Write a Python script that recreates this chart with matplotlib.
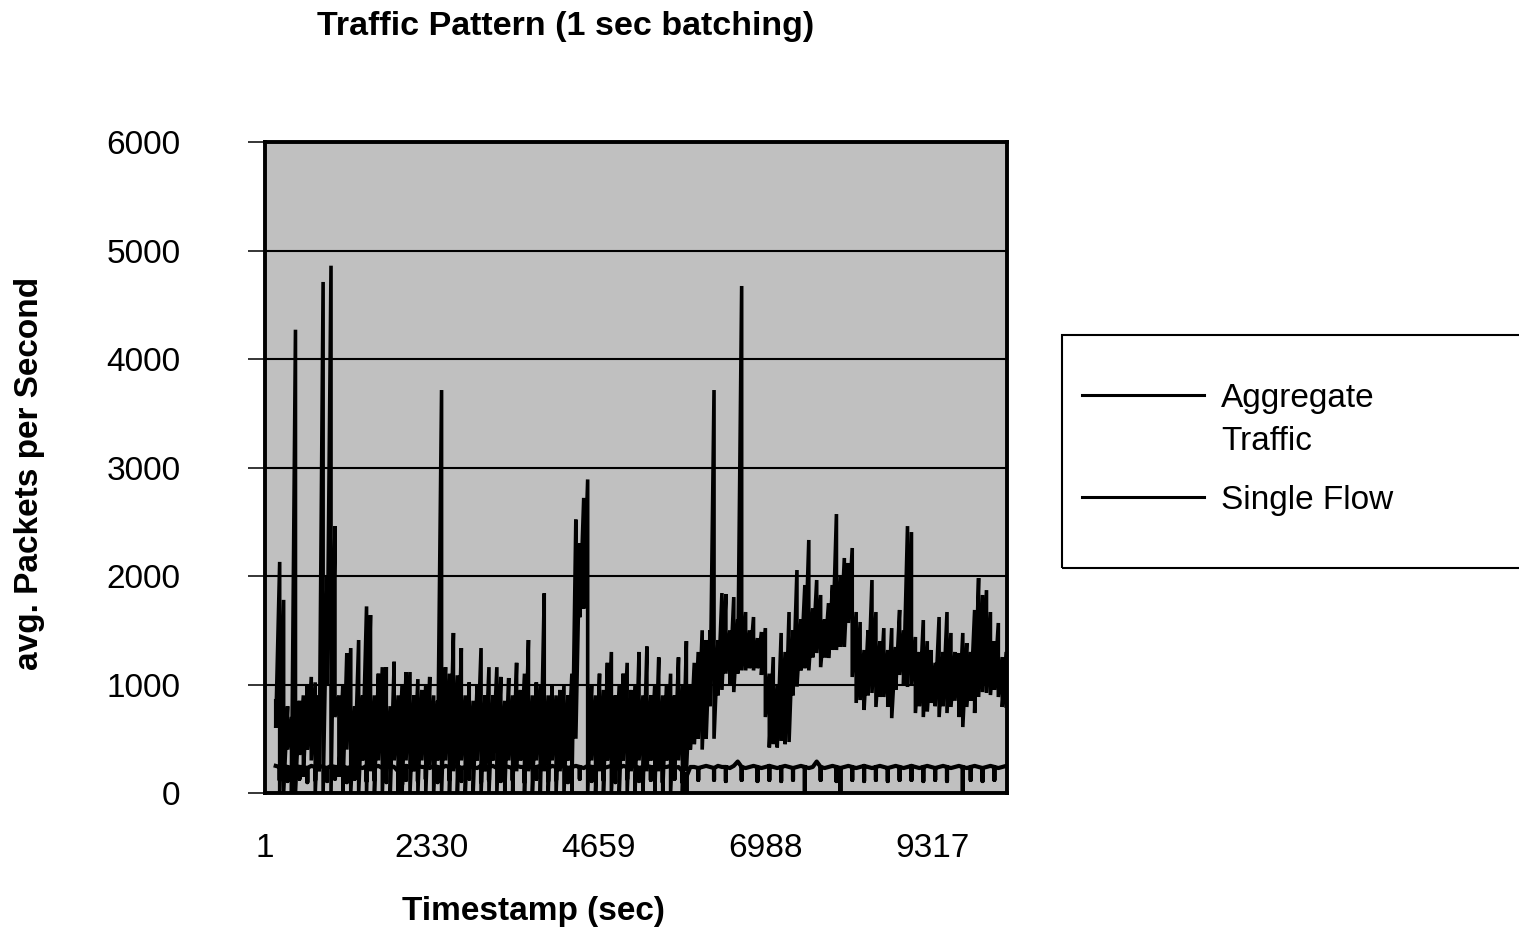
import numpy as np
import matplotlib.pyplot as plt
from matplotlib.lines import Line2D
from matplotlib.patches import Rectangle

plt.rcParams['font.family'] = ['Liberation Sans', 'DejaVu Sans']

# ---- data ----
title = 'Traffic Pattern (1 sec batching)'
x_label = 'Timestamp (sec)'
y_label = 'avg. Packets per Second'
series_names = ['Aggregate\nTraffic', 'Single Flow']
x_tick_values = [1, 2330, 4659, 6988, 9317]
y_tick_values = [0, 1000, 2000, 3000, 4000, 5000, 6000]

# aggregate traffic, read as peak / trough of each ~55 sec bin
agg_high = [
    850, 2130, 1780, 800, 700, 4270, 850, 900, 1000, 1070,
    1020, 900, 4710, 2000, 4860, 2460, 900, 1000, 1290, 1336,
    800, 1410, 900, 1720, 1640, 900, 1100, 1160, 1160, 800,
    1210, 900, 1000, 1115, 1115, 900, 1050, 950, 1000, 1070,
    900, 850, 3714, 1160, 1100, 1475, 1085, 1336, 900, 1020,
    850, 1000, 1336, 900, 1160, 900, 1160, 1070, 850, 1060,
    900, 1200, 950, 1100, 1410, 900, 1020, 1000, 1840, 900,
    1000, 900, 950, 1000, 900, 1100, 2520, 2300, 2720, 2890,
    1000, 900, 1100, 950, 1200, 1300, 900, 1000, 1100, 1200,
    950, 1000, 1300, 900, 1350, 900, 1000, 1250, 900, 1000,
    1100, 900, 1250, 1000, 1400,
    1000, 1200, 1300, 1500, 1410, 1500, 3714, 1410, 1843, 1834,
    1500, 1806, 1600, 4673, 1668, 1500, 1622, 1428, 1484, 1520,
    1100, 1253, 1000, 1475, 1300, 1668, 1500, 2055, 1600, 1917,
    2332, 1700, 1963, 1825, 1600, 1750, 1917, 2571, 2000, 2166,
    2120, 2258, 1668, 1576, 1318, 1500, 1963, 1668, 1400, 1520,
    1318, 1520, 1346, 1687, 1500, 2460, 2405, 1438, 1300, 1594,
    1400, 1318, 1200, 1622, 1300, 1668, 1475, 1300, 1290, 1475,
    1382, 1300, 1687, 1981, 1825, 1870, 1668, 1400, 1567, 1253,
    1300,
]
agg_low = [
    600, 0, 0, 400, 0, 0, 350, 150, 400, 300,
    0, 200, 0, 1000, 0, 700, 150, 0, 400, 0,
    200, 0, 300, 0, 200, 0, 300, 0, 200, 0,
    300, 150, 0, 300, 0, 200, 0, 300, 0, 250,
    0, 300, 0, 300, 0, 200, 0, 300, 0, 200,
    0, 300, 0, 200, 0, 300, 0, 200, 0, 300,
    0, 200, 300, 0, 200, 0, 300, 0, 200, 0,
    300, 0, 200, 0, 300, 0, 500, 1620, 1700, 0,
    300, 0, 200, 0, 300, 0, 200, 0, 300, 0,
    200, 0, 300, 0, 200, 300, 0, 200, 0, 300,
    0, 200, 300, 0, 200,
    400, 450, 500, 400, 500, 800, 500, 900, 950, 1100,
    1000, 930, 1100, 1130, 1130, 1150, 1130, 1150, 1088, 700,
    420, 450, 420, 480, 450, 470, 900, 980, 1130, 1150,
    1130, 1250, 1290, 1160, 1250, 1244, 1318, 1318, 1346, 1346,
    1567, 1069, 830, 857, 765, 900, 922, 793, 885, 885,
    793, 690, 950, 1088, 1000, 977, 1000, 737, 800, 700,
    750, 830, 800, 700, 800, 737, 793, 850, 700, 608,
    793, 850, 737, 885, 930, 922, 903, 950, 885, 793,
    800,
]

# single flow: usual level of each bin and its lowest second
sf_level = [
    250, 240, 250, 240, 230, 250, 240, 240, 230, 250,
    240, 250, 240, 230, 250, 240, 240, 250, 230, 240,
    250, 240, 230, 250, 240, 240, 250, 230, 240, 250,
    240, 200, 230, 250, 240, 230, 250, 240, 240, 230,
    250, 240, 230, 250, 240, 240, 250, 230, 240, 250,
    240, 230, 250, 240, 240, 250, 230, 240, 250, 240,
    230, 250, 240, 240, 250, 230, 240, 250, 240, 230,
    250, 240, 240, 250, 230, 240, 250, 240, 230, 250,
    240, 240, 250, 230, 240, 250, 240, 230, 250, 240,
    240, 250, 230, 240, 250, 240, 230, 250, 240, 240,
    250, 230, 240, 200, 150, 240, 240, 230, 240, 250,
    240, 230, 250, 240, 240, 230, 250, 290, 240, 230,
    240, 250, 240, 230, 240, 250, 240, 230, 240, 250,
    240, 230, 240, 250, 240, 230, 240, 290, 240, 230,
    240, 250, 240, 230, 240, 250, 240, 230, 240, 250,
    240, 230, 240, 250, 240, 230, 240, 250, 240, 230,
    240, 250, 240, 230, 240, 250, 240, 230, 240, 250,
    240, 230, 240, 250, 240, 230, 240, 250, 240, 230,
    240, 250, 240, 230, 240, 250,
]
sf_dip = [
    250, 120, 240, 110, 230, 250, 130, 240, 100, 250,
    120, 250, 240, 110, 250, 130, 240, 250, 100, 240,
    130, 240, 230, 110, 240, 120, 250, 230, 100, 250,
    240, 0, 80, 120, 240, 230, 110, 240, 130, 230,
    250, 100, 230, 250, 120, 240, 250, 110, 240, 130,
    240, 230, 100, 240, 120, 250, 230, 110, 250, 240,
    120, 250, 240, 100, 250, 230, 130, 250, 240, 110,
    250, 120, 240, 250, 100, 240, 250, 130, 230, 250,
    110, 240, 250, 120, 240, 250, 100, 230, 250, 130,
    240, 250, 110, 240, 250, 120, 230, 250, 100, 240,
    250, 130, 240, 100, 0, 240, 240, 120, 240, 250,
    240, 120, 250, 240, 110, 230, 250, 290, 120, 230,
    240, 250, 110, 230, 240, 120, 240, 230, 110, 250,
    240, 120, 240, 250, 0, 230, 240, 290, 120, 230,
    240, 250, 110, 0, 240, 250, 120, 230, 240, 110,
    240, 230, 120, 250, 240, 110, 240, 250, 120, 230,
    240, 120, 240, 230, 110, 250, 240, 120, 240, 250,
    110, 230, 240, 250, 0, 230, 120, 250, 240, 110,
    240, 250, 120, 230, 240, 250,
]

# first / last bin centre (sec)
t_first, t_last = 150, 10350


def main():
    fig = plt.figure(figsize=(15.19, 9.30), dpi=100)
    ax = fig.add_axes([0.1745, 0.1473, 0.4884, 0.7000])
    ax.set_facecolor('#C0C0C0')

    # aggregate: peak then trough of each bin, drawn at the bin's time
    n = len(agg_high)
    bin_t = np.linspace(t_first, t_last, n)
    agg_t = np.repeat(bin_t, 2)
    agg_y = np.column_stack([agg_high, agg_low]).ravel()
    l1, = ax.plot(agg_t, agg_y, color='black', lw=2.6,
                  solid_joinstyle='miter', zorder=3)

    # single flow: level -> dip -> level within each bin
    sf_t = np.repeat(np.linspace(t_first, t_last, len(sf_level)), 3)
    sf_y = np.column_stack([sf_level, sf_dip, sf_level]).ravel()
    l2, = ax.plot(sf_t, sf_y, color='black', lw=3.0, zorder=3)

    ax.set_xlim(140, 10360)
    ax.set_ylim(0, 6000)

    ax.set_yticks(y_tick_values)
    ax.set_yticklabels([str(v) for v in y_tick_values], fontsize=24)
    ax.set_xticks(x_tick_values)
    ax.set_xticklabels([str(v) for v in x_tick_values], fontsize=24)
    ax.tick_params(axis='y', direction='out', length=12, width=1.1,
                   pad=49, color='black')
    ax.tick_params(axis='x', length=0, pad=29)

    ax.grid(True, axis='y', color='black', lw=1.5, zorder=1)
    ax.set_axisbelow(True)
    for sp in ax.spines.values():
        sp.set_linewidth(2.8)
        sp.set_color('black')

    fig.text(0.3726, 0.972, title, fontsize=24.5, fontweight='bold',
             ha='center', va='center')
    fig.text(0.351, 0.020, x_label, fontsize=24, fontweight='bold',
             ha='center', va='center')
    fig.text(0.0197, 0.491, y_label, fontsize=24, fontweight='bold',
             ha='center', va='center', rotation=90)

    # legend box, runs off the right edge like the original
    fig.add_artist(Rectangle((0.6991, 0.3892), 0.32, 0.2505,
                             transform=fig.transFigure, fill=False,
                             edgecolor='black', lw=1.5))
    px = 1 / 930
    entry_y = [0.5753, 0.4656]
    for line, name, y in zip([l1, l2], series_names, entry_y):
        fig.add_artist(Line2D([0.7123, 0.7926], [y, y],
                              transform=fig.transFigure,
                              color=line.get_color(), lw=2.2))
        for j, part in enumerate(name.split('\n')):
            fig.text(0.8038, y - j * 43 * px, part, fontsize=24,
                     ha='left', va='center_baseline')

    fig.savefig('out.png', dpi=100)
    plt.close(fig)


if __name__ == '__main__':
    main()
